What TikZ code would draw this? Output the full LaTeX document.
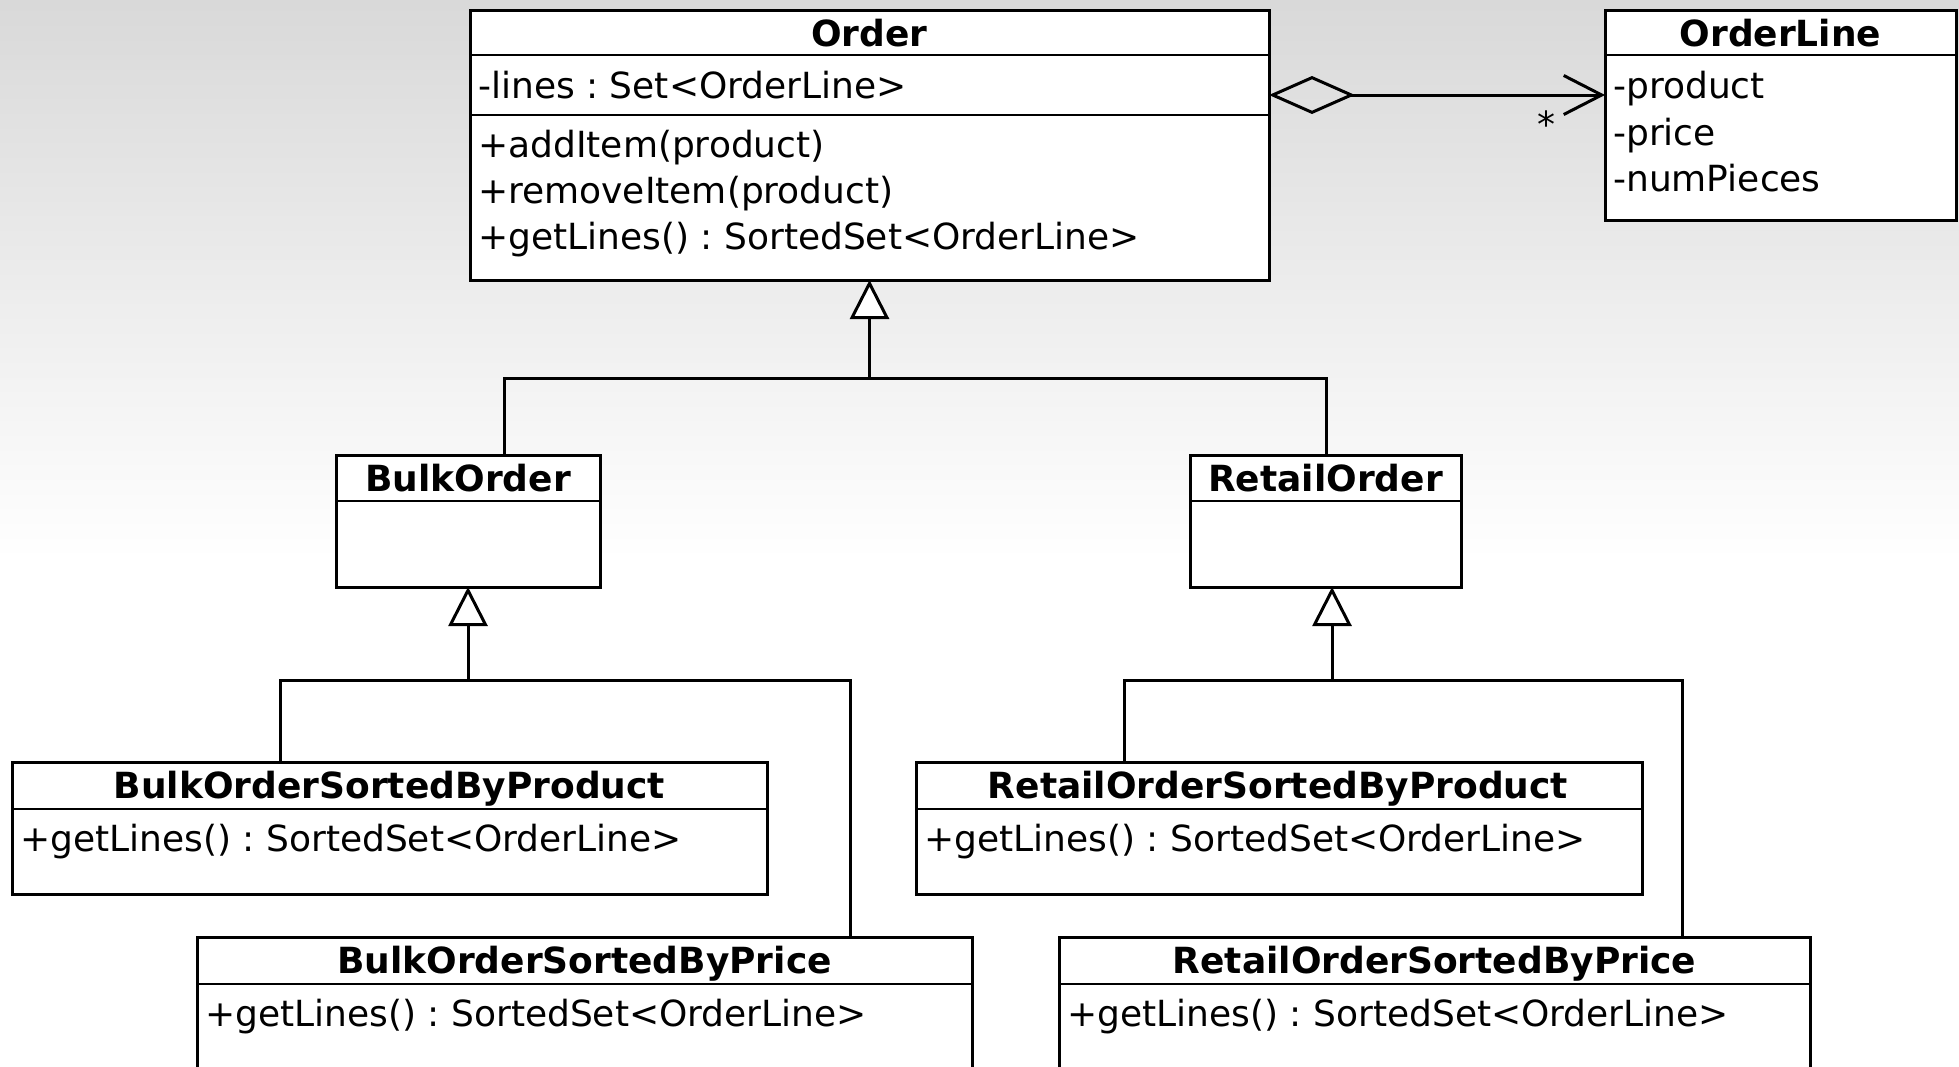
\documentclass[tikz,border=0pt]{standalone}
\usepackage{fontspec}
\setmainfont{DejaVu Sans}
\usetikzlibrary{arrows.meta}

\newcommand{\umlsize}{\fontsize{36pt}{46pt}\selectfont}

\tikzset{
  umlbox/.style={draw, line width=3pt, fill=white, inner sep=0pt, outer sep=0pt, anchor=north west},
  sepline/.style={line width=2.5pt},
  conn/.style={line width=3pt},
  hdr/.style={inner sep=0pt, anchor=base, font=\umlsize\bfseries},
  member/.style={inner sep=0pt, anchor=base west, font=\umlsize},
  genTip/.tip={Triangle[length=39pt, width=39pt, fill=white, line join=miter]},
  aggTip/.tip={Diamond[open, length=86pt, width=38pt]},
  navTip/.tip={Straight Barb[length=38pt, width=39pt]},
}

\begin{document}
\frenchspacing
\begin{tikzpicture}[x=1pt, y=-1pt, font=\umlsize]
  \useasboundingbox (0,0) rectangle (1959,1066);
  \clip (0,0) rectangle (1959,1066);

  % background
  \shade[top color=black!15, bottom color=white] (0,0) rectangle (1959,560);
  \fill[white] (0,559) rectangle (1959,1066);

  % ---------- classes ----------
  % Order
  \node[umlbox, minimum width=799pt, minimum height=270pt] (order) at (470,10) {};
  \draw[sepline] ([yshift=-45pt]order.north west) -- ([yshift=-45pt]order.north east);
  \draw[sepline] ([yshift=-105pt]order.north west) -- ([yshift=-105pt]order.north east);
  \node[hdr] (orderT) at (869.5,46) {Order};
  \node[member] (orderA1) at (478,98) {-lines : Set<OrderLine>};
  \node[member] (orderM1) at (478,157) {+addItem(product)};
  \node[member] (orderM2) at (478,203) {+removeItem(product)};
  \node[member] (orderM3) at (478,249) {+getLines() : SortedSet<OrderLine>};

  % OrderLine
  \node[umlbox, minimum width=351pt, minimum height=210pt] (oline) at (1605,10) {};
  \draw[sepline] ([yshift=-45pt]oline.north west) -- ([yshift=-45pt]oline.north east);
  \node[hdr] (olineT) at (1780.5,46) {OrderLine};
  \node[member] (olineA1) at (1613,98) {-product};
  \node[member] (olineA2) at (1613,145) {-price};
  \node[member] (olineA3) at (1613,191) {-numPieces};

  % BulkOrder
  \node[umlbox, minimum width=264pt, minimum height=132pt] (bulk) at (336,455) {};
  \draw[sepline] ([yshift=-46pt]bulk.north west) -- ([yshift=-46pt]bulk.north east);
  \node[hdr] (bulkT) at (468,491) {BulkOrder};

  % RetailOrder
  \node[umlbox, minimum width=271pt, minimum height=132pt] (retail) at (1190,455) {};
  \draw[sepline] ([yshift=-46pt]retail.north west) -- ([yshift=-46pt]retail.north east);
  \node[hdr] (retailT) at (1325.5,491) {RetailOrder};

  % BulkOrderSortedByProduct
  \node[umlbox, minimum width=755pt, minimum height=132pt] (bprod) at (12,762) {};
  \draw[sepline] ([yshift=-47pt]bprod.north west) -- ([yshift=-47pt]bprod.north east);
  \node[hdr] (bprodT) at (389.5,798) {BulkOrderSortedByProduct};
  \node[member] (bprodM1) at (20,851) {+getLines() : SortedSet<OrderLine>};

  % BulkOrderSortedByPrice
  \node[umlbox, minimum width=775pt, minimum height=163pt] (bprice) at (197,937) {};
  \draw[sepline] ([yshift=-47pt]bprice.north west) -- ([yshift=-47pt]bprice.north east);
  \node[hdr] (bpriceT) at (584.5,973) {BulkOrderSortedByPrice};
  \node[member] (bpriceM1) at (205,1026) {+getLines() : SortedSet<OrderLine>};

  % RetailOrderSortedByProduct
  \node[umlbox, minimum width=726pt, minimum height=132pt] (rprod) at (916,762) {};
  \draw[sepline] ([yshift=-47pt]rprod.north west) -- ([yshift=-47pt]rprod.north east);
  \node[hdr] (rprodT) at (1278,798) {RetailOrderSortedByProduct};
  \node[member] (rprodM1) at (924,851) {+getLines() : SortedSet<OrderLine>};

  % RetailOrderSortedByPrice
  \node[umlbox, minimum width=751pt, minimum height=163pt] (rprice) at (1059,937) {};
  \draw[sepline] ([yshift=-47pt]rprice.north west) -- ([yshift=-47pt]rprice.north east);
  \node[hdr] (rpriceT) at (1434.5,973) {RetailOrderSortedByPrice};
  \node[member] (rpriceM1) at (1067,1026) {+getLines() : SortedSet<OrderLine>};

  % ---------- aggregation Order -> OrderLine ----------
  \coordinate (aggY) at (0,95);
  \draw[conn, {aggTip}-{navTip}] (order.east |- aggY) -- (oline.west |- aggY);
  \node[inner sep=0pt, anchor=base] (mult) at (1546,137) {*};

  % ---------- generalizations ----------
  % Order <- BulkOrder, RetailOrder
  \coordinate (j1) at (869.5,378);
  \coordinate (j1L) at (504,378);
  \coordinate (j1R) at (1326,378);
  \draw[conn, -{genTip}] (j1) -- (order.south);
  \draw[conn] (bulk.north -| j1L) |- (j1) -| (retail.north -| j1R);

  % BulkOrder <- sorted variants
  \coordinate (j2) at (468,680);
  \coordinate (j2L) at (280,680);
  \coordinate (j2R) at (850,680);
  \draw[conn, -{genTip}] (j2) -- (bulk.south);
  \draw[conn] (bprod.north -| j2L) |- (j2) -| (bprice.north -| j2R);

  % RetailOrder <- sorted variants
  \coordinate (j3) at (1332,680);
  \coordinate (j3L) at (1124,680);
  \coordinate (j3R) at (1682,680);
  \draw[conn, -{genTip}] (j3) -- (j3 |- retail.south);
  \draw[conn] (rprod.north -| j3L) |- (j3) -| (rprice.north -| j3R);
\end{tikzpicture}
\end{document}
